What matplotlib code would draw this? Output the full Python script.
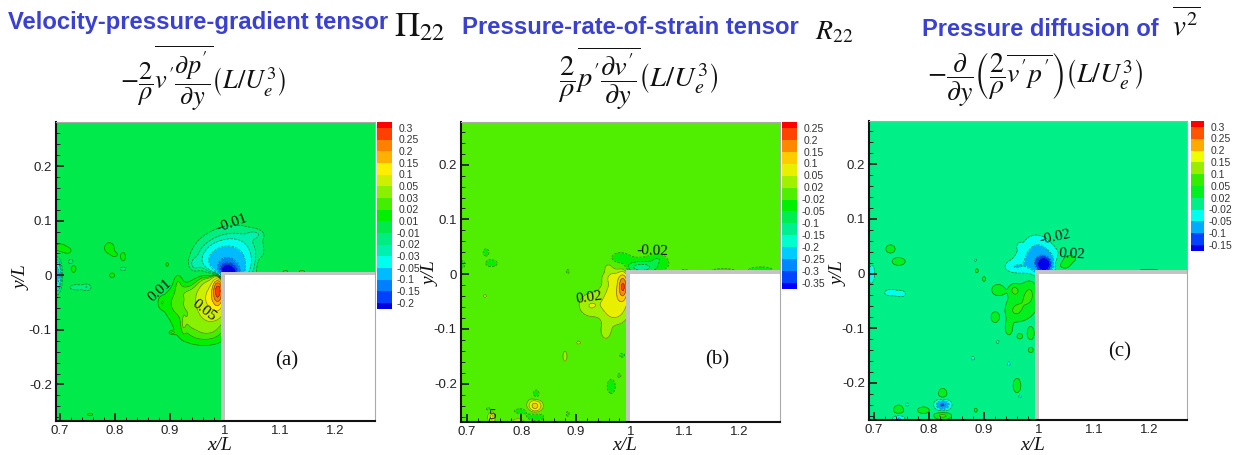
import numpy as np
import matplotlib
matplotlib.use('Agg')
import matplotlib.pyplot as plt
from matplotlib.patches import Rectangle

W, H = 1236, 455

plt.rcParams['mathtext.fontset'] = 'stix'
plt.rcParams['font.family'] = ['Liberation Sans', 'DejaVu Sans']

# contour levels, top to bottom like the legends
levels_a = [0.3, 0.25, 0.2, 0.15, 0.1, 0.05, 0.03, 0.02, 0.01, -0.01, -0.02, -0.03, -0.05, -0.1, -0.15, -0.2]
levels_b = [0.25, 0.2, 0.15, 0.1, 0.05, 0.02, -0.02, -0.05, -0.1, -0.15, -0.2, -0.25, -0.3, -0.35]
levels_c = [0.3, 0.25, 0.2, 0.15, 0.1, 0.05, 0.02, -0.02, -0.05, -0.1, -0.15]

labels_a = ['0.3', '0.25', '0.2', '0.15', '0.1', '0.05', '0.03', '0.02', '0.01', '-0.01', '-0.02', '-0.03', '-0.05', '-0.1', '-0.15', '-0.2']
labels_b = ['0.25', '0.2', '0.15', '0.1', '0.05', '0.02', '-0.02', '-0.05', '-0.1', '-0.15', '-0.2', '-0.25', '-0.3', '-0.35']
labels_c = ['0.3', '0.25', '0.2', '0.15', '0.1', '0.05', '0.02', '-0.02', '-0.05', '-0.1', '-0.15']

# band colours, one more than levels
colors_a = ['#ff0000', '#ff4000', '#ff8000', '#ffb000', '#ffee00', '#ccf000', '#88f000', '#44ee00',
            '#00f000', '#00ea4c', '#00ee80', '#00f0b0', '#00ffee', '#00bbff', '#0080ff', '#0040ff', '#0000e0']
colors_b = ['#ff0000', '#ff4400', '#ff8800', '#ffcc00', '#e8f000', '#a0f000', '#50ee00', '#00f000',
            '#00ee50', '#00f090', '#00ffcc', '#00ccff', '#0088ff', '#0044ff', '#0000ff']
colors_c = ['#ff0000', '#ff5500', '#ffaa00', '#eeff00', '#99ee00', '#33ee00', '#00f020', '#00f088',
            '#00ffee', '#00aaff', '#0044ff', '#0000ee']

# field features: x, y, width in x, width in y, strength
spots_a = [
    (1.005, 0.006, 0.012, 0.010, -0.26), (1.0, 0.018, 0.026, 0.022, -0.09), (1.0, 0.035, 0.042, 0.034, -0.022),
    (1.03, 0.06, 0.03, 0.025, -0.012), (1.055, 0.075, 0.01, 0.006, -0.012), (0.945, 0.02, 0.006, 0.008, -0.014),
    (0.988, -0.025, 0.007, 0.02, 0.2), (0.978, -0.035, 0.018, 0.03, 0.1), (0.955, -0.055, 0.034, 0.03, 0.03),
    (0.96, -0.105, 0.034, 0.018, 0.019), (0.91, -0.05, 0.018, 0.02, 0.012), (0.93, -0.03, 0.012, 0.008, 0.008),
    (0.94, -0.085, 0.01, 0.008, 0.01), (0.885, -0.05, 0.005, 0.008, 0.012), (0.925, -0.09, 0.003, 0.012, 0.012),
    (0.915, -0.012, 0.006, 0.012, 0.014), (0.905, -0.105, 0.004, 0.002, 0.016), (0.895, 0.02, 0.002, 0.003, 0.02),
    (0.695, 0.0, 0.005, 0.018, -0.07), (0.73, -0.022, 0.012, 0.005, -0.016), (0.75, -0.022, 0.006, 0.005, -0.016),
    (0.72, 0.025, 0.004, 0.004, -0.018), (0.725, 0.012, 0.004, 0.006, 0.018), (0.7, 0.05, 0.012, 0.008, 0.016),
    (0.715, 0.045, 0.005, 0.004, 0.012), (0.79, 0.05, 0.008, 0.009, 0.018), (0.8, 0.038, 0.005, 0.004, 0.012),
    (0.815, 0.034, 0.004, 0.007, 0.018), (0.815, 0.012, 0.005, 0.003, -0.018), (0.795, 0.0, 0.004, 0.004, 0.018),
    (0.755, -0.255, 0.005, 0.002, 0.016), (1.065, 0.015, 0.005, 0.01, 0.014), (1.11, 0.006, 0.006, 0.004, 0.014),
    (1.14, 0.006, 0.006, 0.004, 0.014),
]
spots_b = [
    (0.987, -0.022, 0.006, 0.016, 0.16), (0.975, -0.03, 0.015, 0.028, 0.07), (0.945, -0.05, 0.03, 0.018, 0.03),
    (0.925, -0.06, 0.012, 0.012, 0.028), (0.97, -0.07, 0.018, 0.016, 0.035), (0.955, -0.105, 0.008, 0.012, 0.032),
    (0.965, -0.005, 0.012, 0.008, 0.025), (1.03, 0.018, 0.036, 0.012, -0.035), (1.02, 0.012, 0.016, 0.006, -0.11),
    (0.98, 0.03, 0.014, 0.009, -0.035), (1.05, 0.028, 0.01, 0.007, -0.03), (1.1, 0.005, 0.008, 0.003, -0.03),
    (1.17, 0.006, 0.02, 0.004, -0.035), (1.24, 0.008, 0.02, 0.005, -0.035),
    (0.825, -0.24, 0.008, 0.008, 0.13), (0.825, -0.26, 0.012, 0.006, -0.05), (0.827, -0.222, 0.006, 0.01, -0.035),
    (0.745, -0.26, 0.005, 0.009, 0.06), (0.742, -0.247, 0.007, 0.005, -0.035), (0.798, -0.25, 0.01, 0.004, -0.035),
    (0.795, -0.268, 0.01, 0.004, 0.035), (0.735, 0.04, 0.005, 0.006, -0.035), (0.745, 0.02, 0.01, 0.006, -0.035),
    (0.692, 0.018, 0.004, 0.006, -0.035), (0.733, -0.04, 0.003, 0.003, 0.03), (0.96, 0.012, 0.005, 0.005, 0.03),
    (0.885, 0.005, 0.003, 0.004, -0.03), (0.88, -0.15, 0.004, 0.01, 0.03), (0.905, -0.125, 0.004, 0.003, 0.03),
    (0.965, -0.205, 0.007, 0.012, -0.035), (0.98, -0.185, 0.003, 0.004, -0.03), (0.985, -0.148, 0.005, 0.004, -0.03),
    (0.885, -0.255, 0.003, 0.005, -0.03),
]
spots_c = [
    (1.01, 0.016, 0.008, 0.008, -0.22), (1.005, 0.022, 0.02, 0.018, -0.07), (0.985, 0.02, 0.03, 0.022, -0.03),
    (0.955, 0.012, 0.012, 0.007, -0.032), (0.995, 0.055, 0.018, 0.016, -0.026), (0.965, 0.05, 0.003, 0.004, -0.03),
    (1.04, 0.015, 0.015, 0.008, 0.04), (1.055, 0.028, 0.012, 0.006, 0.03), (0.97, -0.05, 0.02, 0.026, 0.04),
    (0.985, -0.03, 0.01, 0.022, 0.03), (0.955, -0.07, 0.012, 0.012, 0.03), (0.925, -0.03, 0.009, 0.008, 0.04),
    (0.955, -0.03, 0.006, 0.007, 0.04), (0.92, -0.08, 0.006, 0.008, 0.04), (0.945, -0.1, 0.005, 0.01, 0.04),
    (0.965, -0.115, 0.005, 0.005, 0.03), (0.985, -0.11, 0.005, 0.009, 0.04), (0.985, -0.14, 0.005, 0.005, 0.03),
    (0.96, -0.205, 0.006, 0.011, 0.04), (0.825, -0.222, 0.007, 0.01, 0.04), (0.825, -0.24, 0.009, 0.007, -0.12),
    (0.825, -0.26, 0.011, 0.005, 0.06), (0.745, -0.25, 0.008, 0.008, 0.04), (0.745, -0.265, 0.008, 0.005, -0.06),
    (0.79, -0.25, 0.009, 0.005, 0.04), (0.76, -0.24, 0.004, 0.004, -0.03), (0.695, 0.0, 0.005, 0.014, -0.045),
    (0.692, 0.022, 0.003, 0.006, 0.03), (0.73, 0.045, 0.008, 0.007, 0.035), (0.745, 0.022, 0.01, 0.006, 0.04),
    (0.73, -0.035, 0.011, 0.006, -0.032), (0.75, -0.037, 0.007, 0.005, -0.032), (0.887, 0.005, 0.003, 0.004, 0.03),
    (0.9, -0.01, 0.003, 0.005, 0.03), (0.885, 0.024, 0.002, 0.003, -0.03), (0.88, -0.155, 0.003, 0.004, -0.03),
    (0.945, -0.165, 0.003, 0.004, -0.03), (0.925, -0.125, 0.003, 0.003, -0.03), (0.885, -0.25, 0.003, 0.004, 0.03),
    (0.965, -0.225, 0.004, 0.003, -0.03), (1.2, 0.005, 0.02, 0.003, 0.03),
]

# pixel boxes left, top, right, bottom and legend boxes
axes_a = (56, 122, 375, 421)
axes_b = (461, 122, 780, 422)
axes_c = (869, 121, 1187, 420)
legend_a = (377, 122, 392, 309)
legend_b = (782, 122, 797, 289)
legend_c = (1191, 121, 1204, 251)

xlim_a = (0.693, 1.273)
xlim_b = (0.689, 1.275)
xlim_c = (0.691, 1.269)
ylim_a = (-0.267, 0.281)
ylim_b = (-0.270, 0.278)
ylim_c = (-0.268, 0.279)

xticks = [0.7, 0.8, 0.9, 1.0, 1.1, 1.2]
xticklabels = ['0.7', '0.8', '0.9', '1', '1.1', '1.2']
yticks = [-0.2, -0.1, 0, 0.1, 0.2]
yticklabels = ['-0.2', '-0.1', '0', '0.1', '0.2']

# contour labels: text, x, y, rotation
notes_a = [('-0.01', 1.013, 0.095, 20), ('0.01', 0.882, -0.028, 42), ('0.05', 0.962, -0.064, -38)]
notes_b = [('-0.02', 1.04, 0.042, -2), ('0.02', 0.925, -0.042, 8), ('5', 0.745, -0.258, 0)]
notes_c = [('-0.02', 1.03, 0.066, 12), ('0.02', 1.06, 0.035, -3)]


def pixel_axes(fig, box):
    left, top, right, bottom = box
    return fig.add_axes([left / W, 1 - bottom / H, (right - left) / W, (bottom - top) / H])


def make_field(spots, X, Y):
    z = np.zeros_like(X)
    for x0, y0, sx, sy, amp in spots:
        z += amp * np.exp(-((X - x0) / sx) ** 2 / 2 - ((Y - y0) / sy) ** 2 / 2)
    return z


def draw_panel(fig, box, xlim, ylim, levels, colors, spots, notes):
    ax = pixel_axes(fig, box)
    x = np.linspace(xlim[0], xlim[1], 700)
    y = np.linspace(ylim[0], ylim[1], 700)
    X, Y = np.meshgrid(x, y)
    z = make_field(spots, X, Y)
    lev = levels[::-1]
    col = colors[::-1]
    ax.contourf(X, Y, z, levels=lev, colors=col, extend='both')
    ax.contour(X, Y, z, levels=lev, colors='#1c3a1c', linewidths=0.5, alpha=0.6)

    # the step
    ax.add_patch(Rectangle((0.993, ylim[0]), xlim[1] - 0.993, 0.007 - ylim[0], fc='#c4c4c4', ec='none', zorder=3))
    ax.add_patch(Rectangle((1.0, ylim[0]), xlim[1] - 1.0, -ylim[0], fc='white', ec='none', zorder=4))

    for text, tx, ty, rot in notes:
        ax.text(tx, ty, text, rotation=rot, ha='center', va='center', fontsize=11,
                family='Liberation Serif', color='#101810', zorder=5)

    ax.set_xlim(xlim)
    ax.set_ylim(ylim)
    ax.set_xticks(xticks)
    ax.set_xticklabels(xticklabels)
    ax.set_yticks(yticks)
    ax.set_yticklabels(yticklabels)
    ax.set_xticks(np.arange(0.7, 1.27, 0.02), minor=True)
    ax.set_yticks(np.arange(-0.26, 0.27, 0.02), minor=True)
    ax.tick_params(which='major', direction='in', length=6, width=1.3, labelsize=9.5, colors='#222222', pad=3, zorder=6)
    ax.tick_params(which='minor', direction='in', length=3, width=0.7, color='#222222', zorder=6)
    for side in ['left', 'bottom']:
        ax.spines[side].set_linewidth(1.5)
        ax.spines[side].set_color('#111111')
        ax.spines[side].set_zorder(7)
    for side in ['top', 'right']:
        ax.spines[side].set_linewidth(0.8)
        ax.spines[side].set_color('#aaaaaa')
        ax.spines[side].set_zorder(7)
    return ax


def draw_legend(fig, box, labels, colors):
    ax = pixel_axes(fig, box)
    n = len(labels)
    # end boxes are half height, the labels sit on the box edges
    for i, c in enumerate(colors):
        low = max(i - 1, -0.5)
        high = min(i, n - 0.5)
        ax.barh((low + high) / 2, 1, height=high - low, left=0, color=c, edgecolor='none')
    ax.set_xlim(0, 1)
    ax.set_ylim(n - 0.5, -0.5)
    ax.axis('off')
    for i, lab in enumerate(labels):
        offset = 5 if lab.startswith('-') else 7
        ax.annotate(lab, xy=(1, i), xycoords=('axes fraction', 'data'), xytext=(offset * 0.72, -0.5),
                    textcoords='offset points', fontsize=7.5, color='#333333', ha='left', va='center')


def put(fig, px, py, text, **kw):
    fig.text(px / W, 1 - py / H, text, ha=kw.pop('ha', 'center'), va=kw.pop('va', 'center'), **kw)


fig = plt.figure(figsize=(W / 100, H / 100), dpi=100)

draw_panel(fig, axes_a, xlim_a, ylim_a, levels_a, colors_a, spots_a, notes_a)
draw_panel(fig, axes_b, xlim_b, ylim_b, levels_b, colors_b, spots_b, notes_b)
draw_panel(fig, axes_c, xlim_c, ylim_c, levels_c, colors_c, spots_c, notes_c)
draw_legend(fig, legend_a, labels_a, colors_a)
draw_legend(fig, legend_b, labels_b, colors_b)
draw_legend(fig, legend_c, labels_c, colors_c)

blue = '#3a40d0'
put(fig, 8, 23, 'Velocity-pressure-gradient tensor', ha='left', fontsize=17.2, fontweight='bold', color=blue)
put(fig, 462, 28, 'Pressure-rate-of-strain tensor', ha='left', fontsize=17.2, fontweight='bold', color=blue)
put(fig, 922, 29, 'Pressure diffusion of', ha='left', fontsize=17, fontweight='bold', color=blue)
put(fig, 420, 27, r'$\Pi_{22}$', fontsize=25, color='#111111')
put(fig, 834, 32, r'$R_{22}$', fontsize=20, color='#111111')
put(fig, 1186, 25, r'$\overline{v^{2}}$', fontsize=21, color='#111111')

put(fig, 203, 78, r'$-\dfrac{2}{\rho}\overline{v^{\prime}\dfrac{\partial p^{\prime}}{\partial y}}\left(L/U_e^3\right)$', fontsize=19, color='#111111')
put(fig, 638, 78, r'$\dfrac{2}{\rho}\overline{p^{\prime}\dfrac{\partial v^{\prime}}{\partial y}}\left(L/U_e^3\right)$', fontsize=20.5, color='#111111')
put(fig, 1035, 79, r'$-\dfrac{\partial}{\partial y}\left(\dfrac{2}{\rho}\overline{v^{\prime}p^{\prime}}\right)\left(L/U_e^3\right)$', fontsize=20, color='#111111')

serif = 'Liberation Serif'
put(fig, 220, 446, 'x/L', fontsize=14, family=serif, style='italic', color='#111111')
put(fig, 625, 446, 'x/L', fontsize=14, family=serif, style='italic', color='#111111')
put(fig, 1033, 445, 'x/L', fontsize=14, family=serif, style='italic', color='#111111')
put(fig, 22, 278, 'y/L', fontsize=14, family=serif, style='italic', color='#111111', rotation=90)
put(fig, 431, 274, 'y/L', fontsize=14, family=serif, style='italic', color='#111111', rotation=90)
put(fig, 839, 274, 'y/L', fontsize=14, family=serif, style='italic', color='#111111', rotation=90)

put(fig, 287, 361, '(a)', fontsize=15, family=serif, color='#111111')
put(fig, 717, 360, '(b)', fontsize=15, family=serif, color='#111111')
put(fig, 1120, 352, '(c)', fontsize=15, family=serif, color='#111111')

fig.savefig('out.png', dpi=100)
